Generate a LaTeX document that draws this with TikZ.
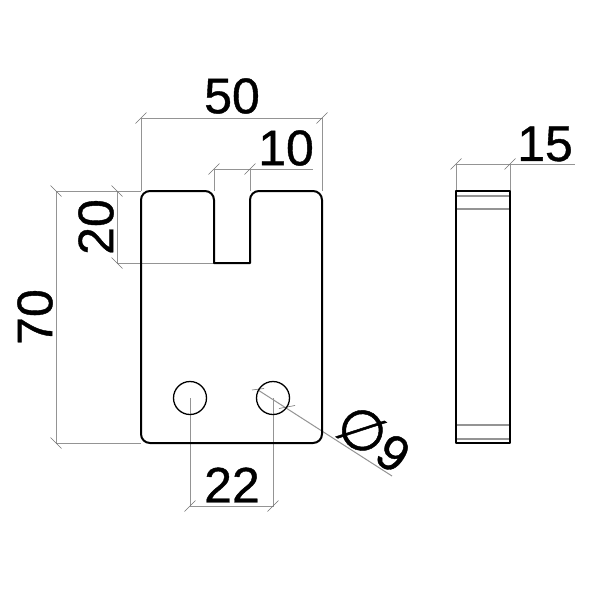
\documentclass[tikz,border=0pt]{standalone}
\usepackage{fontspec}
\setmainfont{Liberation Sans}[FakeBold=0.8]
\newfontfamily\symfont{DejaVu Sans}[FakeBold=0.8]
\tikzset{
  outline/.style={draw=black,line width=2pt,line join=round},
  hole/.style={draw=black,line width=1.3pt},
  dimline/.style={draw=black!42,line width=1pt},
  edgeline/.style={draw=black!42,line width=1.2pt},
  tickline/.style={draw=black!55,line width=0.6pt},
  dimtext/.style={inner sep=0pt,font=\fontsize{50}{50}\selectfont,text=black}
}
\newcommand{\tickup}[1]{\draw[tickline,shift={(#1)}] (-5.5,5.5) -- (5.5,-5.5);}
\newcommand{\tickdown}[1]{\draw[tickline,shift={(#1)}] (-5.5,-5.5) -- (5.5,5.5);}
\begin{document}
\begin{tikzpicture}[x=1pt,y=-1pt]
\useasboundingbox (0,0) rectangle (600,600);
\fill[white] (0,0) rectangle (600,600);
% dimension anchor points
\coordinate (a50) at (141,118); \coordinate (b50) at (322,118);
\coordinate (a10) at (214,169); \coordinate (b10) at (250,169); \coordinate (e10) at (313,169);
\coordinate (a20) at (117,191); \coordinate (b20) at (117,263);
\coordinate (a70) at (56,191); \coordinate (b70) at (56,443);
\coordinate (a22) at (190,506); \coordinate (b22) at (273,506);
\coordinate (a15) at (456,164); \coordinate (b15) at (510,164); \coordinate (e15) at (575,164);
\coordinate (d1) at (258,390); \coordinate (d2) at (287,407); \coordinate (d3) at (392,476);
\coordinate (h1) at (190,398); \coordinate (h2) at (273,398);
% dimensions
\draw[dimline] (a50) -- (b50);
\draw[dimline] (a50) -- (141,191);
\draw[dimline] (b50) -- (322,191);
\draw[dimline] (a10) -- (e10);
\draw[dimline] (a10) -- (214,191);
\draw[dimline] (b10) -- (250,191);
\draw[dimline] (a20) -- (b20);
\draw[dimline] (b20) -- (214,263);
\draw[dimline] (a70) -- (b70);
\draw[dimline] (a70) -- (141,191);
\draw[dimline] (b70) -- (141,443);
\draw[dimline] (h1) -- (a22) -- (b22) -- (h2);
\draw[dimline] (a15) -- (e15);
\draw[dimline] (a15) -- (456,191);
\draw[dimline] (b15) -- (510,191);
\draw[dimline] (d1) -- (d3);
\tickup{a50}\tickup{b50}\tickup{a10}\tickup{b10}\tickup{a22}\tickup{b22}\tickup{a15}\tickup{b15}
\tickdown{a20}\tickdown{b20}\tickdown{a70}\tickdown{b70}
\draw[tickline,shift={(d1)}] (-6,0) -- (6,-1.5);
\draw[tickline,shift={(d2)}] (-8,1.5) -- (8,-1.5);
% front view
\draw[outline] (150,191) -- (205,191) .. controls (210,191) and (214,195) .. (214,200) -- (214,263) -- (250,263)
  -- (250,200) .. controls (250,195) and (254,191) .. (259,191) -- (313,191) .. controls (318,191) and (322,195) .. (322,200)
  -- (322,434) .. controls (322,439) and (318,443) .. (313,443) -- (150,443) .. controls (145,443) and (141,439) .. (141,434)
  -- (141,200) .. controls (141,195) and (145,191) .. (150,191) -- cycle;
\draw[hole] (h1) circle[radius=16.5];
\draw[hole] (h2) circle[radius=16.5];
% side view
\draw[edgeline] (456,196) -- (510,196);
\draw[edgeline] (456,209) -- (510,209);
\draw[edgeline] (456,425) -- (510,425);
\draw[edgeline] (456,439) -- (510,439);
\draw[outline] (456,191) rectangle (510,443);
% labels
\node[dimtext] (t50) at (232,96) {50};
\node[dimtext] (t10) at (286,148) {10};
\node[dimtext,rotate=90] (t20) at (96,227) {20};
\node[dimtext,rotate=90] (t70) at (35,317) {70};
\node[dimtext] (t22) at (232,485) {22};
\node[dimtext] (t15) at (545,144) {15};
\node[dimtext,rotate=-33] (t9) at (374,438) {{\symfont\fontsize{56}{56}\selectfont ∅}9};
\end{tikzpicture}
\end{document}
